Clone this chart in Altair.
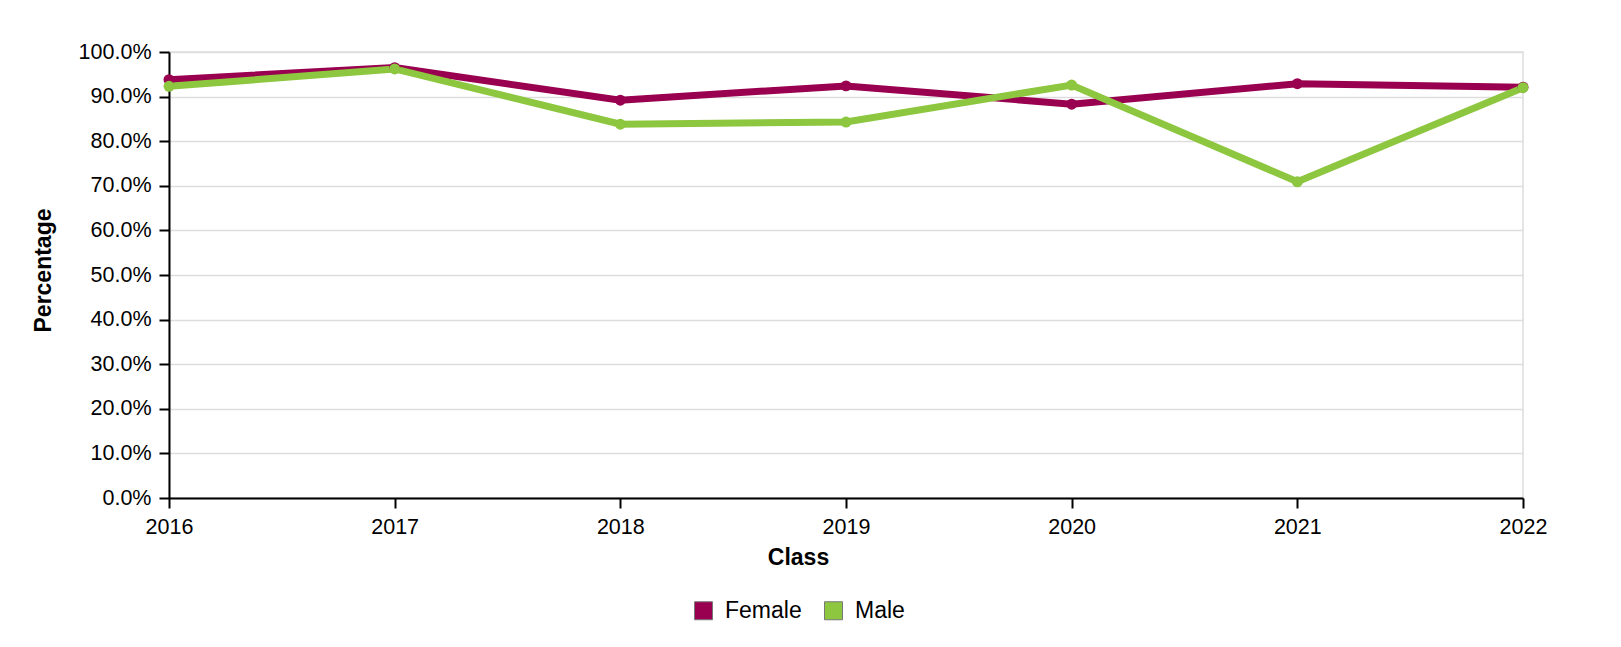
import altair as alt
import pandas as pd

classes = ["2016", "2017", "2018", "2019", "2020", "2021", "2022"]
female = [0.938, 0.965, 0.892, 0.924, 0.883, 0.929, 0.921]
male = [0.923, 0.962, 0.838, 0.843, 0.926, 0.709, 0.920]
genders = ["Female", "Male"]
colors = ["#99004f", "#8dc63f"]
y_ticks = [0.0, 0.1, 0.2, 0.3, 0.4, 0.5, 0.6, 0.7, 0.8, 0.9, 1.0]

rows = []
for c, f, m in zip(classes, female, male):
    rows.append({"Class": c, "Gender": "Female", "Percentage": f})
    rows.append({"Class": c, "Gender": "Male", "Percentage": m})
df = pd.DataFrame(rows)

FONT = "Liberation Sans"

x_enc = alt.X(
    "Class:O",
    sort=classes,
    scale=alt.Scale(type="point", padding=0),
    axis=alt.Axis(title="Class", labelAngle=0, grid=False, titleX=629, titlePadding=9),
)
y_enc = alt.Y(
    "Percentage:Q",
    scale=alt.Scale(domain=[0, 1], nice=False),
    axis=alt.Axis(title="Percentage", format=".1%", values=y_ticks, grid=True,
                  titlePadding=23, titleY=218),
)
color_scale = alt.Scale(domain=genders, range=colors)

base = alt.Chart(df).encode(x=x_enc, y=y_enc)

lines = base.mark_line(strokeWidth=7).encode(
    color=alt.Color("Gender:N", scale=color_scale, legend=None),
)
points = base.mark_point(filled=True, size=120, opacity=1).encode(
    color=alt.Color(
        "Gender:N",
        scale=color_scale,
        legend=alt.Legend(
            title=None,
            orient="none",
            direction="horizontal",
            legendX=523,
            legendY=547,
            symbolType="square",
            symbolSize=324,
            symbolStrokeWidth=1,
            symbolStrokeColor="#777777",
            symbolOpacity=1,
            labelFontSize=23,
            labelFont=FONT,
            labelColor="#000",
            labelOffset=10,
            columnPadding=20,
            padding=0,
        ),
    ),
)

chart = alt.layer(lines, points).resolve_legend(color="independent").properties(
    width=1354,
    height=446,
    autosize=alt.AutoSizeParams(type="none"),
    padding={"left": 161, "top": 44, "right": 80, "bottom": 130},
).configure_axis(
    labelFont=FONT,
    labelFontSize=21.5,
    labelColor="#000",
    titleFont=FONT,
    titleFontSize=23,
    titleFontWeight="bold",
    titleColor="#000",
    domainColor="#000",
    domainWidth=2,
    tickColor="#000",
    tickWidth=2,
    tickSize=10,
    labelPadding=8,
    gridColor="#dddddd",
    gridWidth=1.5,
).configure_view(
    stroke="#dddddd",
    strokeWidth=1.5,
)

chart.save("out.html", embed_options={"renderer": "svg", "actions": False})
